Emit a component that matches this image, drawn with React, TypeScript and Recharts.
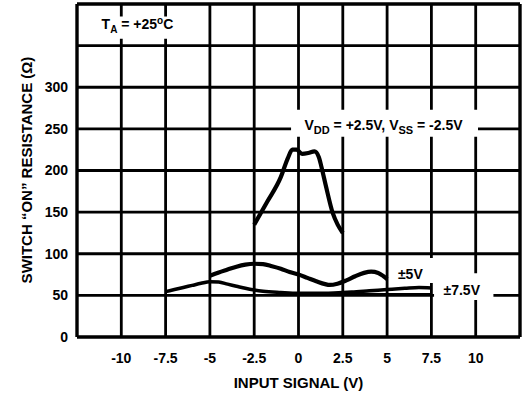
import { CartesianGrid, Label, Line, LineChart, ReferenceArea, ReferenceLine, XAxis, YAxis } from "recharts";

const xTicks = [-10, -7.5, -5, -2.5, 0, 2.5, 5, 7.5, 10];
const yTicks = [0, 50, 100, 150, 200, 250, 300, 350];

// VDD = +2.5V, VSS = -2.5V
const supply25 = [
  { v: -2.5, r: 135 },
  { v: -1.75, r: 163 },
  { v: -1.0, r: 192 },
  { v: -0.6, r: 215 },
  { v: -0.35, r: 225 },
  { v: -0.1, r: 225 },
  { v: 0.2, r: 220 },
  { v: 0.55, r: 221 },
  { v: 0.9, r: 223 },
  { v: 1.15, r: 216 },
  { v: 1.3, r: 204 },
  { v: 1.55, r: 181 },
  { v: 1.93, r: 149 },
  { v: 2.21, r: 135 },
  { v: 2.5, r: 125 },
];

// ±5V
const supply5 = [
  { v: -5, r: 73.5 },
  { v: -4.5, r: 77.5 },
  { v: -4, r: 81 },
  { v: -3.5, r: 84.5 },
  { v: -3, r: 87 },
  { v: -2.5, r: 88 },
  { v: -2, r: 87.5 },
  { v: -1.5, r: 85 },
  { v: -1, r: 82 },
  { v: -0.5, r: 78 },
  { v: 0, r: 75 },
  { v: 0.5, r: 71 },
  { v: 1, r: 67 },
  { v: 1.5, r: 63.5 },
  { v: 1.75, r: 62.5 },
  { v: 2.2, r: 64 },
  { v: 2.7, r: 68 },
  { v: 3.2, r: 73 },
  { v: 3.7, r: 77 },
  { v: 4.1, r: 78.5 },
  { v: 4.5, r: 77 },
  { v: 4.8, r: 73 },
  { v: 5, r: 69.5 },
];

// ±7.5V
const supply75 = [
  { v: -7.5, r: 54.5 },
  { v: -7, r: 57 },
  { v: -6.5, r: 59.5 },
  { v: -6, r: 62 },
  { v: -5.5, r: 64.5 },
  { v: -5, r: 66.5 },
  { v: -4.5, r: 66 },
  { v: -4, r: 63.5 },
  { v: -3.5, r: 61 },
  { v: -3, r: 58.5 },
  { v: -2.5, r: 56.5 },
  { v: -2, r: 55 },
  { v: -1, r: 53.5 },
  { v: 0, r: 52.5 },
  { v: 1, r: 52.5 },
  { v: 2, r: 53 },
  { v: 3, r: 54 },
  { v: 4, r: 55.5 },
  { v: 5, r: 57 },
  { v: 6, r: 58.5 },
  { v: 6.8, r: 59.5 },
  { v: 7.5, r: 59 },
];

// faint second trace under the ±7.5V curve
const supply75Lower = [
  { v: 2.4, r: 52.5 },
  { v: 5, r: 52 },
  { v: 7.5, r: 52 },
];

const font = "'Liberation Sans', Arial, Helvetica, sans-serif";

function boxLabel(node: React.ReactNode, dx: number, dy: number) {
  return (props: any) => {
    const vb = props.viewBox || {};
    const cx = vb.x + vb.width / 2 + dx;
    const cy = vb.y + vb.height / 2 + dy;
    return (
      <text x={cx} y={cy + 5} textAnchor="middle" fontFamily={font} fontWeight="bold" fontSize={14} fill="#000">
        {node}
      </text>
    );
  };
}

const taText = (
  <>
    <tspan>T</tspan>
    <tspan fontSize={10} dy={4}>A</tspan>
    <tspan dy={-4}> = +25</tspan>
    <tspan fontSize={10} dy={-5}>o</tspan>
    <tspan dy={5}>C</tspan>
  </>
);

const vddText = (
  <>
    <tspan>V</tspan>
    <tspan fontSize={11} dy={4}>DD</tspan>
    <tspan dy={-4}> = +2.5V, V</tspan>
    <tspan fontSize={11} dy={4}>SS</tspan>
    <tspan dy={-4}> = -2.5V</tspan>
  </>
);

export default function App() {
  return (
    <div style={{ position: "absolute", left: 0, top: 0, background: "#fff" }}>
      <LineChart width={522} height={396} margin={{ top: 4, right: 2, bottom: 0, left: 0 }}>
        <CartesianGrid stroke="#000" strokeWidth={2.8} />
        <XAxis
          type="number"
          dataKey="v"
          domain={[-12.5, 12.5]}
          ticks={xTicks}
          allowDataOverflow
          height={59}
          tickLine={false}
          tickMargin={10}
          axisLine={{ stroke: "#000", strokeWidth: 3 }}
          tick={{ fill: "#000", fontSize: 14, fontWeight: "bold", fontFamily: font }}
        >
          <Label
            value="INPUT SIGNAL (V)"
            position="insideBottom"
            offset={8}
            style={{ fill: "#000", fontSize: 15, fontWeight: "bold", fontFamily: font }}
          />
        </XAxis>
        <YAxis
          type="number"
          dataKey="r"
          domain={[0, 400]}
          ticks={yTicks}
          allowDataOverflow
          width={77}
          tickLine={false}
          tickMargin={3}
          axisLine={{ stroke: "#000", strokeWidth: 3 }}
          tickFormatter={(value: number) => (value > 300 ? "" : String(value))}
          tick={{ fill: "#000", fontSize: 14, fontWeight: "bold", fontFamily: font }}
        >
          <Label
            content={() => (
              <text
                x={26}
                y={170}
                transform="rotate(-90 26 170)"
                textAnchor="middle"
                dominantBaseline="central"
                fontFamily={font}
                fontWeight="bold"
                fontSize={15}
                fill="#000"
              >
                SWITCH “ON” RESISTANCE (Ω)
              </text>
            )}
          />
        </YAxis>
        <ReferenceLine y={400} stroke="#000" strokeWidth={3} />
        <ReferenceLine x={12.5} stroke="#000" strokeWidth={3} />
        <ReferenceArea x1={-11.43} x2={-6.52} y1={358.4} y2={384.9} fill="#fff" fillOpacity={1} stroke="none" label={{ content: boxLabel(taText, -2, -3.5) }} />
        <ReferenceArea x1={-0.42} x2={10.13} y1={240.6} y2={273} fill="#fff" fillOpacity={1} stroke="none" label={{ content: boxLabel(vddText, -1, 1.5) }} />
        <ReferenceArea x1={5.5} x2={7.8} y1={65} y2={95} fill="#fff" fillOpacity={1} stroke="none" label={{ content: boxLabel("±5V", -6, 3.5) }} />
        <ReferenceArea x1={7.65} x2={11.0} y1={44.5} y2={76.5} fill="#fff" fillOpacity={1} stroke="none" label={{ content: boxLabel("±7.5V", -2, 3) }} />
        <Line data={supply75Lower} dataKey="r" type="monotone" stroke="#000" strokeWidth={1.5} dot={false} isAnimationActive={false} />
        <Line data={supply75} dataKey="r" type="monotone" stroke="#000" strokeWidth={3.5} dot={false} isAnimationActive={false} />
        <Line data={supply5} dataKey="r" type="monotone" stroke="#000" strokeWidth={4.2} dot={false} isAnimationActive={false} />
        <Line data={supply25} dataKey="r" type="monotone" stroke="#000" strokeWidth={4.2} dot={false} isAnimationActive={false} />
      </LineChart>
    </div>
  );
}
